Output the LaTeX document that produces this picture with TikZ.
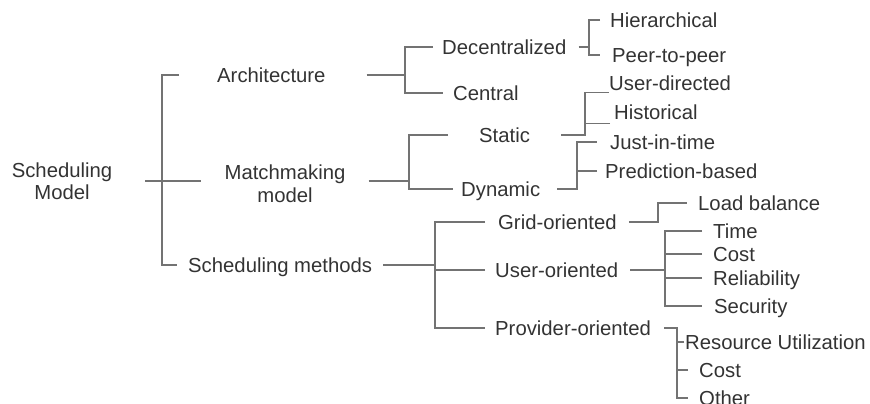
\documentclass[tikz,border=0pt]{standalone}
\usepackage{fontspec}
\setmainfont{Liberation Sans}
\begin{document}
\begin{tikzpicture}[x=1pt,y=-1pt,font=\fontsize{20.3}{22.5}\selectfont,text=black!80,
  item/.style={anchor=west,inner sep=0pt,text height=14.6pt,text depth=0pt},
  twoline/.style={align=center,inner sep=0pt},
  branch/.style={draw=black!55,line width=1.5pt}]
\useasboundingbox (0,0) rectangle (870,404);
% first level
\node[twoline] (root) at (62,181) {Scheduling\\Model};
\node[item] (arch) at (217,75) {Architecture};
\node[twoline] (match) at (285,183.5) {Matchmaking\\model};
\node[item] (meth) at (188,265) {Scheduling methods};
% second level
\node[item] (decen) at (442,47) {Decentralized};
\node[item] (central) at (453,93) {Central};
\node[item] (static) at (479,135) {Static};
\node[item] (dyn) at (461,189) {Dynamic};
\node[item] (grid) at (498,222) {Grid-oriented};
\node[item] (user) at (495,270) {User-oriented};
\node[item] (prov) at (495,328) {Provider-oriented};
% leaves
\node[item] (hier) at (610,20) {Hierarchical};
\node[item] (p2p) at (612,55) {Peer-to-peer};
\node[item] (usrdir) at (609,83) {User-directed};
\node[item] (hist) at (614,112) {Historical};
\node[item] (jit) at (610,142) {Just-in-time};
\node[item] (pred) at (605,171) {Prediction-based};
\node[item] (load) at (698,203) {Load balance};
\node[item] (time) at (713,231) {Time};
\node[item] (ucost) at (713,254) {Cost};
\node[item] (rel) at (713,278) {Reliability};
\node[item] (sec) at (714,306) {Security};
\node[item] (res) at (685,342) {Resource Utilization};
\node[item] (pcost) at (699,370) {Cost};
\node[item] (other) at (699,398) {Other};

% x of the vertical bars
\coordinate (b0) at (162,0);
\coordinate (b1) at (405,0);
\coordinate (b2) at (409,0);
\coordinate (b3) at (435,0);
\coordinate (b4) at (589,0);
\coordinate (b5) at (585,0);
\coordinate (b6) at (577,0);
\coordinate (b7) at (658,0);
\coordinate (b8) at (665,0);
\coordinate (b9) at (677,0);

% root
\coordinate (m0) at ([xshift=-23]match.west);
\draw[branch] ([xshift=33]root.east) -- (m0 |- root.east);
\draw[branch] ([xshift=-38]arch.west) -- (b0 |- arch) -- (b0 |- meth) -- ([xshift=-11]meth.west);
% architecture
\draw[branch] ([xshift=41]arch.east) -- (b1 |- arch);
\draw[branch] ([xshift=-9]decen.west) -- (b1 |- decen) -- (b1 |- central) -- ([xshift=-10]central.west);
% matchmaking
\coordinate (m1) at ([xshift=23]match.east);
\draw[branch] (m1 |- root.east) -- (b2 |- root.east);
\draw[branch] ([xshift=-31]static.west) -- (b2 |- static) -- (b2 |- dyn) -- ([xshift=-8]dyn.west);
% scheduling methods
\draw[branch] ([xshift=11]meth.east) -- (b3 |- meth);
\draw[branch] ([xshift=-13]grid.west) -- (b3 |- grid) -- (b3 |- prov) -- ([xshift=-10]prov.west);
\draw[branch] ([xshift=-10]user.west) -- (b3 |- user);
% decentralized
\draw[branch] ([xshift=12]decen.east) -- (b4 |- decen);
\draw[branch] ([xshift=-10]hier.west) -- (b4 |- hier) -- (b4 |- p2p) -- ([xshift=-12]p2p.west);
% static
\coordinate (t1) at ([yshift=-2]usrdir.south west);
\coordinate (t2) at ([xshift=-4,yshift=-4]hist.south west);
\draw[branch] ([xshift=31]static.east) -- (b5 |- static) -- (b5 |- t1) -- (t1);
\draw[branch] (t2) -- (b5 |- t2);
% dynamic
\draw[branch] ([xshift=17]dyn.east) -- (b6 |- dyn) -- (b6 |- jit) -- ([xshift=-13]jit.west);
\draw[branch] ([xshift=-8]pred.west) -- (b6 |- pred);
% grid-oriented
\draw[branch] ([xshift=12]grid.east) -- (b7 |- grid) -- (b7 |- load) -- ([xshift=-11]load.west);
% user-oriented
\draw[branch] ([xshift=12]user.east) -- (b8 |- user);
\draw[branch] ([xshift=-11]time.west) -- (b8 |- time) -- (b8 |- sec) -- ([xshift=-12]sec.west);
\foreach \n in {ucost,rel} \draw[branch] ([xshift=-11]\n.west) -- (b8 |- \n);
% provider-oriented
\draw[branch] ([xshift=13]prov.east) -- (b9 |- prov) -- (b9 |- other) -- ([xshift=-11]other.west);
\draw[branch] ([xshift=-1]res.west) -- (b9 |- res);
\draw[branch] ([xshift=-11]pcost.west) -- (b9 |- pcost);
\end{tikzpicture}
\end{document}
